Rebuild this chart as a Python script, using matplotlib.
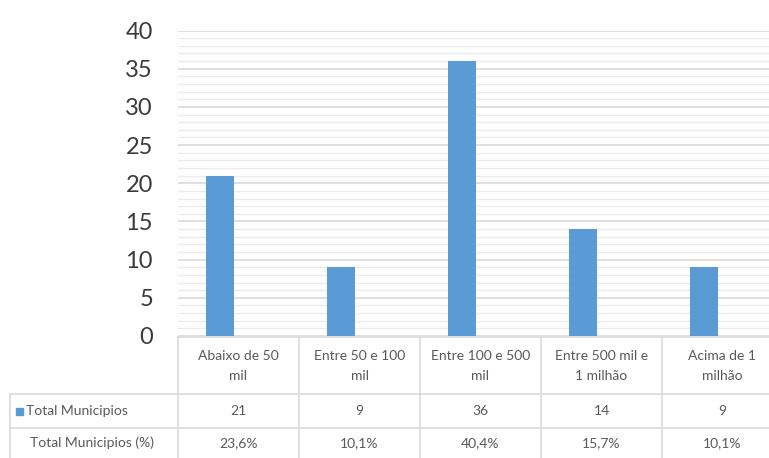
import matplotlib.pyplot as plt
import matplotlib.transforms as mtransforms
import numpy as np

plt.rcParams['font.family'] = ['Lato', 'DejaVu Sans']

categorias = ['Abaixo de 50\nmil', 'Entre 50 e 100\nmil', 'Entre 100 e 500\nmil',
              'Entre 500 mil e\n1 milhão', 'Acima de 1\nmilhão']
total_municipios = [21, 9, 36, 14, 9]
total_pct = ['23,6%', '10,1%', '40,4%', '15,7%', '10,1%']
serie_nome = 'Total Municipios'
serie_pct_nome = 'Total Municipios (%)'

W, H = 769, 458
fig = plt.figure(figsize=(W / 100, H / 100), dpi=100)
ax = fig.add_axes([178 / W, 122 / H, 1 - 178 / W, (427.5 - 122) / H])

x = np.arange(len(categorias))
ax.bar(x - 0.15, total_municipios, width=0.23, color='#5B9BD5', zorder=3)

ax.set_xlim(-0.5, -0.5 + (W - 178) / 121)
ax.set_ylim(0, 40)
ax.set_yticks(np.arange(0, 41, 5))
ax.set_yticks(np.arange(0, 41, 1), minor=True)
ax.grid(which='major', axis='y', color='#d9d9d9', lw=1.2, zorder=0)
ax.grid(which='minor', axis='y', color='#ebebeb', lw=1.0, zorder=0)
ax.set_xticks([])
ax.tick_params(axis='y', which='both', length=0, pad=18, labelsize=17, labelcolor='#3a3a3a')
for s in ax.spines.values():
    s.set_visible(False)

# data table under the plot
tr = mtransforms.blended_transform_factory(ax.transData, fig.transFigure)
def fy(py):
    return 1 - py / H

line_kw = dict(color='#d9d9d9', lw=1.2, clip_on=False)
txt_kw = dict(color='#595959', fontsize=10, ha='center', va='center', clip_on=False)
xr = ax.get_xlim()[1]

# horizontal lines
fig.add_artist(plt.Line2D([-0.5, xr], [fy(337), fy(337)], transform=tr, **line_kw))
for py in (394, 428):
    fig.add_artist(plt.Line2D([10 / W, 1], [fy(py), fy(py)], transform=fig.transFigure, **line_kw))
# vertical lines
for i in range(len(categorias)):
    fig.add_artist(plt.Line2D([i - 0.5, i - 0.5], [fy(337), 0], transform=tr, **line_kw))
fig.add_artist(plt.Line2D([10 / W, 10 / W], [fy(394), 0], transform=fig.transFigure, **line_kw))

for i, cat in enumerate(categorias):
    fig.text(i, fy(366), cat, transform=tr, linespacing=1.7, **txt_kw)
    fig.text(i, fy(411), str(total_municipios[i]), transform=tr, **txt_kw)
    fig.text(i, fy(443), total_pct[i], transform=tr, **txt_kw)

fig.add_artist(plt.Rectangle((16 / W, fy(415)), 7 / W, 7 / H, color='#5B9BD5',
                             transform=fig.transFigure))
fig.text(26 / W, fy(411), serie_nome, color='#595959', fontsize=10, ha='left', va='center')
fig.text(30 / W, fy(443), serie_pct_nome, color='#595959', fontsize=10, ha='left', va='center')

fig.savefig('out.png', dpi=100)
